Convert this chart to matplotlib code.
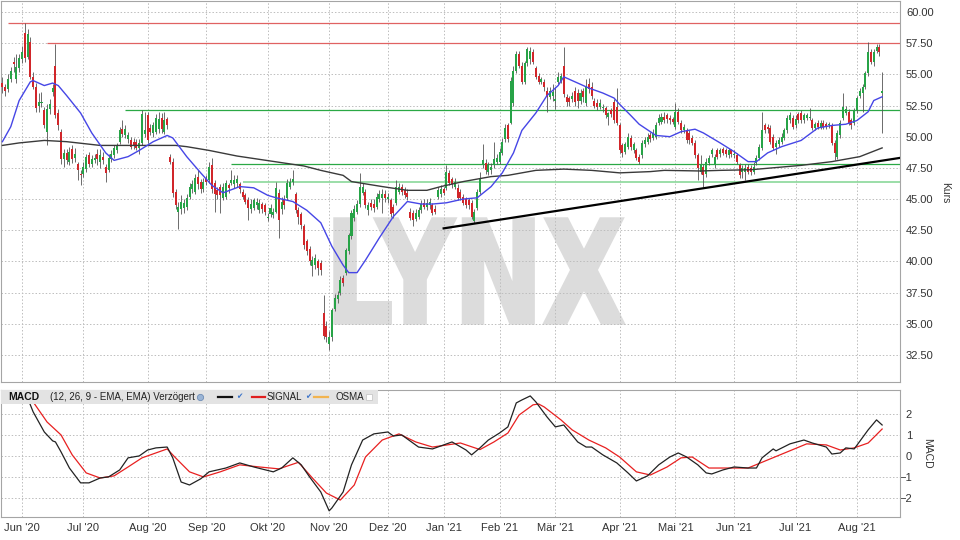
import numpy as np
import pandas as pd
import matplotlib
matplotlib.use("Agg")
import matplotlib.pyplot as plt
from matplotlib.lines import Line2D
from matplotlib.patches import Rectangle, PathPatch
from matplotlib.textpath import TextPath
from matplotlib.font_manager import FontProperties
from matplotlib.transforms import Affine2D, IdentityTransform

plt.rcParams['font.family'] = ['Liberation Sans', 'DejaVu Sans']

# trading calendar (Xetra holidays)
holidays = ['2020-12-24', '2020-12-25', '2020-12-31', '2021-01-01', '2021-04-02', '2021-04-05']
month_names = ['Jan', 'Feb', 'Mär', 'Apr', 'Mai', 'Jun', 'Jul', 'Aug', 'Sep', 'Okt', 'Nov', 'Dez']

# daily candles
opens = [
    54.3, 54.0, 53.8, 54.6, 56.0, 54.6, 55.5, 56.2, 58.3, 56.4,
    57.6, 54.8, 54.0, 52.5, 52.7, 52.1, 50.4, 52.2, 53.6, 55.7,
    51.9, 50.4, 48.2, 48.7, 48.0, 49.0, 48.3, 47.8, 47.0, 47.0,
    47.4, 48.5, 47.8, 48.1, 48.6, 48.0, 48.4, 47.6, 47.3, 48.2,
    48.5, 48.9, 49.6, 50.6, 50.1, 49.8, 49.7, 49.6, 49.6, 49.1,
    49.5, 50.2, 51.7, 50.7, 50.3, 50.4, 50.6, 51.5, 50.4, 51.4,
    48.4, 48.0, 45.6, 44.0, 44.2, 44.3, 44.4, 45.2, 45.8, 45.6,
    46.8, 46.4, 45.8, 46.6, 46.5, 47.7, 46.3, 45.7, 46.0, 45.1,
    45.2, 46.1, 46.3, 46.2, 46.3, 46.2, 45.6, 45.3, 44.9, 44.2,
    44.3, 44.5, 44.1, 44.6, 44.5, 43.5, 43.8, 43.7, 44.0, 45.5,
    44.2, 45.0, 45.1, 46.0, 46.4, 45.4, 44.1, 43.8, 42.8, 41.6,
    41.0, 39.6, 39.7, 40.0, 39.9, 35.9, 34.8, 33.4, 33.9, 36.2,
    37.0, 37.5, 38.7, 39.1, 40.8, 42.0, 43.5, 44.0, 44.6, 45.5,
    45.6, 44.1, 44.7, 44.6, 44.4, 45.0, 45.1, 45.4, 45.0, 44.9,
    44.4, 44.7, 45.6, 46.0, 45.7, 45.5, 44.0, 43.9, 43.4, 43.6,
    44.1, 44.7, 44.4, 44.5, 44.5, 44.2, 45.2, 45.4, 45.8, 45.9,
    47.1, 46.6, 46.0, 45.9, 45.6, 45.2, 45.0, 44.9, 44.7, 43.2,
    44.3, 45.6, 47.7, 47.9, 47.2, 47.3, 47.7, 48.0, 48.0, 48.7,
    49.8, 50.9, 51.1, 52.7, 55.3, 56.6, 55.7, 54.4, 55.9, 56.2,
    56.8, 55.5, 54.9, 54.4, 54.4, 53.7, 53.2, 53.3, 52.9, 54.4,
    54.5, 55.7, 53.2, 53.1, 53.0, 53.7, 53.5, 52.9, 53.7, 52.7,
    54.2, 54.0, 52.9, 52.7, 52.4, 52.3, 52.3, 51.6, 52.1, 52.8,
    52.4, 50.9, 49.3, 48.8, 49.2, 49.9, 48.9, 48.9, 48.4, 48.5,
    49.4, 49.6, 50.1, 49.9, 50.0, 51.1, 51.2, 51.6, 51.7, 51.5,
    51.4, 50.8, 52.0, 51.1, 50.5, 50.5, 50.3, 49.9, 49.5, 48.5,
    47.2, 47.6, 47.0, 47.9, 48.6, 47.7, 48.9, 48.6, 49.0, 48.9,
    48.5, 48.9, 48.5, 48.5, 47.7, 47.2, 47.2, 47.6, 47.5, 47.2,
    47.9, 48.3, 49.1, 50.9, 50.8, 50.7, 50.0, 49.2, 49.4, 49.6,
    49.9, 50.5, 51.3, 51.5, 50.9, 51.8, 51.9, 51.3, 51.5, 51.5,
    51.3, 50.7, 51.1, 50.8, 51.1, 51.0, 50.9, 50.9, 49.5, 48.4,
    50.1, 51.5, 51.9, 52.0, 51.3, 51.1, 52.1, 53.3, 53.5, 54.0,
    55.1, 56.8, 56.0, 56.9, 57.2, 53.5,
]
highs = [
    54.8, 54.2, 55.0, 55.6, 56.4, 56.6, 56.6, 57.3, 59.1, 58.6,
    58.0, 55.2, 54.3, 53.5, 53.6, 52.4, 52.6, 53.0, 54.2, 57.4,
    52.2, 50.6, 49.0, 49.0, 49.2, 49.3, 49.1, 48.0, 47.3, 48.0,
    48.6, 48.8, 48.5, 48.6, 49.0, 49.0, 48.8, 47.8, 48.6, 48.9,
    49.3, 49.5, 50.8, 51.3, 50.9, 50.4, 50.0, 49.9, 49.8, 49.8,
    52.1, 52.0, 52.0, 51.0, 51.2, 51.8, 52.0, 51.9, 52.0, 51.6,
    48.6, 48.3, 45.8, 44.8, 45.3, 45.0, 45.4, 46.3, 46.5, 47.0,
    47.3, 46.6, 46.7, 46.9, 48.0, 48.3, 46.5, 46.0, 46.2, 46.3,
    46.5, 46.3, 47.3, 46.9, 46.9, 46.4, 45.8, 45.5, 45.2, 45.0,
    45.1, 45.1, 45.0, 44.8, 44.7, 43.9, 44.6, 44.3, 46.4, 45.8,
    45.2, 45.3, 46.6, 46.7, 47.3, 45.6, 44.4, 44.0, 43.0, 41.8,
    41.2, 40.4, 40.6, 40.2, 40.1, 37.3, 35.2, 34.4, 36.3, 37.4,
    37.6, 38.8, 38.9, 41.1, 42.3, 44.1, 44.5, 44.9, 47.1, 46.3,
    45.8, 44.8, 45.0, 45.0, 45.5, 45.7, 45.8, 45.7, 45.5, 45.1,
    44.6, 46.5, 46.3, 46.2, 46.0, 45.8, 44.3, 44.1, 44.2, 44.4,
    44.9, 45.0, 45.0, 45.1, 44.7, 44.5, 46.0, 46.1, 46.0, 47.7,
    47.3, 46.8, 46.7, 46.2, 45.8, 45.4, 45.2, 45.1, 44.9, 44.2,
    45.8, 47.2, 49.4, 48.2, 48.0, 47.9, 49.6, 48.6, 49.1, 49.9,
    51.0, 51.1, 54.8, 55.7, 56.9, 56.9, 56.0, 56.1, 57.2, 57.2,
    57.0, 55.7, 55.1, 54.8, 54.6, 54.0, 54.0, 54.2, 54.0, 55.2,
    55.1, 57.2, 53.4, 53.3, 53.6, 54.0, 53.8, 53.8, 53.9, 54.6,
    54.7, 54.4, 53.1, 53.0, 53.0, 52.6, 52.5, 52.0, 52.3, 53.0,
    53.9, 51.1, 49.5, 49.6, 50.3, 50.1, 49.6, 49.1, 48.6, 49.7,
    50.0, 50.3, 50.4, 50.6, 51.2, 51.8, 51.9, 52.0, 51.9, 51.7,
    51.6, 52.7, 52.3, 51.3, 51.0, 50.7, 50.5, 50.1, 49.7, 48.7,
    48.5, 47.8, 48.3, 48.5, 49.1, 48.6, 49.1, 49.1, 49.2, 49.1,
    49.1, 49.0, 48.9, 48.7, 47.9, 47.7, 47.8, 47.8, 47.7, 48.0,
    48.5, 49.4, 52.0, 51.1, 51.0, 50.9, 50.2, 49.7, 50.0, 50.3,
    50.7, 51.7, 52.0, 51.7, 51.7, 52.0, 52.1, 51.9, 51.9, 52.3,
    51.5, 51.2, 51.3, 51.3, 51.3, 51.2, 51.2, 51.1, 49.7, 50.5,
    51.3, 53.5, 52.5, 52.2, 51.5, 52.3, 53.3, 53.9, 54.2, 55.3,
    57.6, 57.0, 57.0, 57.4, 57.4, 55.2,
]
lows = [
    53.5, 53.3, 53.6, 54.4, 55.2, 54.3, 55.2, 55.9, 56.0, 56.2,
    54.6, 53.8, 52.0, 52.0, 52.4, 50.7, 49.3, 51.8, 53.3, 51.5,
    50.5, 47.8, 47.6, 47.8, 47.7, 47.9, 48.0, 46.5, 46.1, 46.8,
    47.2, 47.6, 47.6, 47.9, 47.7, 47.5, 47.8, 46.4, 47.2, 48.0,
    48.3, 48.7, 49.4, 50.0, 49.9, 49.5, 49.0, 49.0, 48.9, 48.6,
    49.3, 50.0, 49.5, 50.1, 50.0, 50.2, 50.3, 50.3, 50.2, 50.6,
    47.8, 45.2, 44.2, 42.6, 43.8, 43.9, 44.1, 45.0, 45.5, 45.4,
    45.8, 45.5, 45.6, 46.1, 46.3, 45.5, 44.0, 45.0, 43.9, 44.9,
    45.0, 45.5, 46.1, 45.9, 46.0, 45.5, 45.0, 44.6, 43.3, 43.9,
    44.1, 44.2, 43.9, 43.9, 43.7, 43.2, 43.6, 43.5, 43.9, 41.9,
    43.8, 44.2, 44.9, 45.8, 46.1, 43.9, 43.0, 42.6, 41.0, 40.5,
    39.7, 38.8, 39.4, 38.9, 38.9, 33.8, 33.5, 32.9, 33.6, 36.0,
    36.7, 37.3, 38.0, 38.9, 40.6, 41.8, 43.2, 43.8, 44.4, 45.3,
    44.3, 43.7, 44.1, 44.0, 44.2, 44.8, 43.9, 44.8, 44.7, 43.6,
    43.5, 44.5, 45.4, 45.3, 45.1, 44.9, 43.3, 42.8, 43.2, 43.4,
    43.9, 44.2, 44.1, 44.2, 43.7, 43.8, 45.0, 45.2, 45.3, 45.7,
    46.1, 45.9, 45.8, 44.9, 44.9, 44.5, 44.3, 44.2, 43.4, 43.1,
    44.1, 45.4, 47.5, 47.0, 46.9, 47.0, 47.5, 47.8, 47.8, 48.5,
    49.6, 49.6, 51.0, 52.5, 55.1, 55.5, 54.2, 54.2, 55.7, 55.8,
    55.8, 54.6, 54.2, 54.2, 53.7, 52.0, 53.0, 52.9, 52.2, 54.2,
    54.3, 53.2, 52.5, 52.5, 52.8, 52.5, 52.3, 52.6, 52.8, 52.5,
    53.5, 53.0, 52.3, 52.1, 52.2, 52.0, 51.5, 50.9, 51.6, 51.1,
    50.9, 48.7, 48.4, 48.6, 49.0, 48.9, 48.7, 48.1, 47.8, 48.3,
    49.2, 49.4, 49.6, 49.7, 49.8, 50.9, 51.0, 51.1, 51.1, 51.0,
    51.0, 50.6, 51.0, 50.3, 50.3, 49.5, 49.4, 49.3, 48.3, 46.5,
    47.0, 46.0, 46.8, 47.7, 48.4, 47.5, 48.2, 48.4, 48.5, 48.4,
    48.3, 48.4, 48.3, 47.8, 46.7, 46.7, 46.5, 47.0, 46.9, 47.0,
    47.7, 48.1, 48.9, 50.3, 50.3, 49.4, 48.9, 48.6, 49.2, 49.4,
    49.7, 50.3, 51.1, 50.6, 50.7, 51.1, 51.1, 51.1, 51.3, 51.3,
    50.5, 50.5, 50.6, 50.6, 50.6, 50.6, 50.7, 49.3, 48.1, 48.2,
    49.9, 51.3, 51.7, 50.9, 50.6, 50.9, 51.9, 53.1, 52.0, 53.8,
    54.9, 55.8, 55.7, 56.7, 56.5, 50.3,
]
closes = [
    54.0, 53.7, 54.6, 55.3, 55.8, 55.6, 56.3, 56.8, 56.3, 58.2,
    54.8, 54.0, 52.3, 52.8, 52.8, 50.9, 52.2, 52.6, 53.9, 51.7,
    50.9, 48.2, 48.7, 48.1, 48.8, 48.2, 48.6, 47.3, 46.9, 47.6,
    48.4, 47.8, 48.2, 48.3, 48.2, 48.5, 48.1, 47.1, 48.3, 48.6,
    49.1, 49.3, 50.5, 50.2, 50.6, 50.1, 49.2, 49.3, 49.1, 49.5,
    51.8, 50.5, 49.7, 50.4, 50.9, 51.5, 51.4, 50.6, 51.3, 50.9,
    48.0, 45.5, 44.5, 44.4, 44.8, 44.7, 45.1, 46.0, 46.2, 46.7,
    46.2, 45.8, 46.4, 46.4, 47.6, 45.8, 45.4, 45.3, 45.3, 46.0,
    46.3, 45.9, 46.5, 46.5, 46.6, 45.8, 45.2, 44.8, 44.3, 44.6,
    44.9, 44.8, 44.7, 44.2, 44.0, 43.6, 44.3, 44.0, 45.9, 43.3,
    44.8, 44.5, 46.3, 46.4, 46.6, 44.1, 43.6, 42.9, 41.3, 40.8,
    40.0, 40.1, 40.3, 39.5, 39.3, 34.0, 33.9, 33.9, 36.1, 37.1,
    37.3, 38.5, 38.3, 40.9, 42.1, 43.9, 44.2, 44.6, 46.0, 46.0,
    44.5, 44.5, 44.4, 44.3, 45.2, 45.4, 45.4, 45.1, 45.2, 43.8,
    43.9, 46.0, 46.0, 45.6, 45.3, 45.2, 43.5, 43.3, 43.9, 44.1,
    44.6, 44.4, 44.7, 44.8, 43.9, 44.0, 45.7, 45.8, 45.5, 47.2,
    46.3, 46.2, 46.4, 45.1, 45.1, 44.7, 44.5, 44.5, 43.6, 44.0,
    45.6, 46.7, 48.1, 47.3, 47.7, 47.6, 48.2, 48.3, 48.8, 49.6,
    50.7, 49.8, 54.5, 55.3, 56.6, 55.7, 54.4, 55.9, 57.0, 56.9,
    56.0, 54.8, 54.4, 54.6, 54.0, 53.2, 53.7, 53.6, 53.0, 54.8,
    54.9, 53.4, 52.8, 52.8, 53.3, 52.8, 52.9, 53.5, 53.2, 54.1,
    53.8, 53.3, 52.5, 52.4, 52.7, 52.4, 51.7, 51.9, 51.8, 51.3,
    51.1, 48.9, 48.7, 49.4, 50.0, 49.2, 49.4, 48.3, 48.0, 49.5,
    49.7, 50.0, 49.8, 50.3, 50.9, 51.5, 51.6, 51.3, 51.4, 51.3,
    51.2, 52.0, 51.2, 50.5, 50.8, 49.7, 49.7, 49.5, 48.5, 47.5,
    47.8, 46.9, 48.0, 48.3, 48.9, 48.4, 48.4, 48.9, 48.7, 48.6,
    48.9, 48.6, 48.6, 48.0, 46.9, 47.5, 47.5, 47.2, 47.2, 47.6,
    48.3, 49.2, 50.5, 50.5, 50.6, 49.6, 49.1, 49.5, 49.7, 50.0,
    50.5, 51.5, 51.7, 50.8, 51.4, 51.3, 51.3, 51.7, 51.7, 51.6,
    50.7, 51.0, 50.8, 51.1, 50.8, 50.8, 51.0, 49.5, 48.7, 50.3,
    51.1, 52.4, 52.2, 51.1, 50.9, 52.1, 53.1, 53.7, 54.0, 55.1,
    56.8, 56.0, 56.8, 57.2, 56.8, 53.7,
]

# moving averages, sampled (trading-day index, value)
ma_short_days = [0, 3, 6, 10, 11, 15, 18, 20, 23, 28, 32, 37, 40, 45, 49, 54, 59, 61, 66, 71,
                 75, 79, 85, 90, 95, 98, 104, 109, 114, 118, 122, 124, 127, 130, 135, 140, 145, 150, 154, 159,
                 165, 170, 175, 179, 183, 186, 191, 195, 199, 201, 206, 210, 215, 219, 221, 225, 228, 234, 239, 243,
                 248, 251, 254, 257, 262, 267, 270, 274, 279, 286, 292, 297, 302, 306, 310, 312, 315]
ma_short_vals = [49.6, 50.8, 52.9, 54.4, 54.5, 54.1, 54.3, 54.1, 53.3, 51.9, 50.3, 48.7, 48.1, 48.4, 48.9, 49.6, 50.1, 49.9, 48.4, 47.1,
                 46.1, 45.5, 46.0, 45.9, 45.3, 45.1, 44.8, 44.1, 43.1, 41.2, 39.7, 39.1, 39.1, 40.1, 41.9, 43.6, 44.8, 44.6, 44.6, 44.7,
                 45.0, 45.1, 46.0, 47.1, 48.7, 50.5, 51.9, 53.3, 54.1, 54.8, 54.3, 53.9, 53.5, 53.1, 52.6, 51.7, 51.0, 50.1, 50.0, 50.4,
                 50.6, 50.3, 49.9, 49.5, 48.8, 48.0, 48.0, 48.7, 49.2, 49.7, 50.7, 50.9, 51.0, 51.3, 52.0, 52.9, 53.2]
ma_long_days = [0, 6, 15, 23, 35, 47, 59, 62, 66, 74, 84, 96, 108, 114, 122, 125, 136, 145, 152, 157,
                165, 175, 181, 191, 201, 211, 221, 232, 237, 250, 257, 268, 286, 297, 307, 315]
ma_long_vals = [49.3, 49.5, 49.7, 49.6, 49.3, 49.3, 49.3, 49.3, 49.2, 48.9, 48.45, 48.05, 47.65, 47.3, 46.9, 46.4, 46.0, 45.7, 45.7, 46.0,
                46.4, 46.8, 46.9, 47.3, 47.4, 47.3, 47.1, 47.2, 47.3, 47.25, 47.3, 47.35, 47.7, 48.0, 48.4, 49.1]

# horizontal levels and trend line
level_vals = [59.1, 57.5, 52.15, 47.8, 46.35]
level_start = [2, 16, 44, 82, 86]
trend_days = [158, 321.4]
trend_vals = [42.65, 48.3]

# MACD (12, 26, 9)
macd_days = [0, 9, 11, 15, 18, 19, 21, 24, 28, 31, 35, 38, 42, 45, 49, 52, 55, 59, 61, 64,
             67, 71, 74, 80, 85, 90, 97, 100, 104, 107, 110, 114, 117, 118, 122, 125, 129, 133, 138, 140,
             143, 149, 154, 161, 166, 168, 171, 174, 178, 181, 184, 186, 189, 191, 195, 198, 201, 206, 209, 211,
             215, 220, 224, 227, 231, 235, 239, 242, 245, 249, 252, 254, 258, 262, 267, 270, 272, 276, 277, 282,
             287, 290, 295, 297, 300, 302, 305, 310, 313, 315]
macd_vals = [2.78, 2.74, 2.08, 1.13, 0.71, 0.66, 0.19, -0.57, -1.27, -1.27, -1.04, -0.99, -0.66, -0.09, 0.0, 0.28, 0.38, 0.42, -0.09, -1.23,
             -1.37, -1.08, -0.75, -0.57, -0.33, -0.52, -0.75, -0.57, -0.09, -0.42, -0.99, -1.70, -2.59, -2.45, -1.70, -0.42, 0.75, 1.04, 1.13, 0.94,
             0.99, 0.42, 0.33, 0.66, 0.28, 0.05, 0.38, 0.75, 1.08, 1.37, 2.50, 2.64, 2.83, 2.55, 1.84, 1.37, 1.46, 0.66, 0.42, 0.42,
             0.05, -0.33, -0.80, -1.18, -0.94, -0.42, -0.05, 0.14, -0.05, -0.42, -0.80, -0.85, -0.66, -0.52, -0.57, -0.57, -0.09, 0.33, 0.24, 0.57,
             0.75, 0.61, 0.42, 0.09, 0.14, 0.38, 0.33, 1.23, 1.70, 1.46]
signal_days = [0, 11, 16, 21, 25, 30, 35, 40, 45, 50, 59, 62, 67, 72, 78, 85, 92, 99, 106, 111,
               116, 121, 126, 130, 136, 142, 148, 154, 164, 171, 176, 181, 185, 190, 192, 194, 200, 204, 210, 216,
               221, 227, 232, 238, 243, 247, 253, 259, 267, 274, 281, 288, 295, 300, 305, 310, 315]
signal_vals = [2.78, 2.55, 1.60, 0.99, 0.05, -0.80, -1.04, -0.94, -0.52, -0.09, 0.33, -0.09, -0.75, -0.99, -0.75, -0.42, -0.52, -0.61, -0.30, -1.04,
               -1.75, -2.08, -1.37, -0.05, 0.75, 1.04, 0.66, 0.42, 0.61, 0.30, 0.66, 1.08, 1.93, 2.41, 2.45, 2.31, 1.70, 1.23, 0.75, 0.38,
               -0.05, -0.75, -0.90, -0.52, -0.09, -0.05, -0.57, -0.57, -0.57, -0.19, 0.19, 0.57, 0.52, 0.28, 0.38, 0.61, 1.27]

dates = pd.bdate_range('2020-05-21', '2021-08-13', freq='C', holidays=holidays)
x = np.arange(len(dates))
o, h, l, c = (np.array(a) for a in (opens, highs, lows, closes))

tick_pos = [i for i in range(1, len(dates)) if dates[i].month != dates[i - 1].month]
tick_lbl = ["%s '%02d" % (month_names[dates[i].month - 1], dates[i].year % 100) for i in tick_pos]

W, H = 960, 540
fig = plt.figure(figsize=(W / 100, H / 100), dpi=100)
ax = fig.add_axes([1 / W, 1 - 382 / H, 899 / W, 381 / H])
ax2 = fig.add_axes([1 / W, 1 - 517 / H, 899 / W, 127 / H])
x_lo, x_hi = -0.5, len(dates) + 5.4

grid_kw = dict(color='#bdbdbd', linestyle=(0, (1.5, 2)), linewidth=0.7)
for a in (ax, ax2):
    a.set_facecolor('white')
    a.set_axisbelow(True)
    a.grid(True, **grid_kw)
    for s in a.spines.values():
        s.set_color('#a5a5a5')
        s.set_linewidth(0.8)
    a.set_xlim(x_lo, x_hi)
    a.set_xticks(tick_pos)

# watermark (heavy, condensed)
tp = TextPath((0, 0), 'LYNX', size=100, prop=FontProperties(family='DejaVu Sans', weight='bold'))
ext = tp.get_extents()
tr = Affine2D().translate(-ext.x0, -ext.y0).scale(288 / ext.width, 104 / ext.height).translate(335, H - 323)
ax.add_patch(PathPatch(tr.transform_path(tp), facecolor='#dcdcdc', edgecolor='#dcdcdc', linewidth=2.5,
                       joinstyle='miter', transform=IdentityTransform(), zorder=0.1))

# levels
lvl_colors = ['#e06262', '#e06262', '#2aa845', '#2aa845', '#8ad89a']
lvl_widths = [0.9, 0.9, 0.9, 0.9, 1.2]
for v, s, col, lw in zip(level_vals, level_start, lvl_colors, lvl_widths):
    ax.hlines(v, s, x_hi + 5, color=col, linewidth=lw, zorder=1.5)

# candles
up = c >= o
body_col = np.where(up, '#27a347', '#d1262a')
ax.vlines(x, l, h, color='#545454', linewidth=0.6, zorder=2)
ax.bar(x, np.maximum(np.abs(c - o), 0.08), bottom=np.minimum(o, c), width=0.72,
       color=body_col, linewidth=0, zorder=3)

ax.plot(ma_long_days, ma_long_vals, color='#3a3a3a', linewidth=1.0, zorder=4)
ax.plot(ma_short_days, ma_short_vals, color='#4646e6', linewidth=1.0, zorder=4)
ax.plot(trend_days, trend_vals, color='black', linewidth=1.6, zorder=5)

ax.set_ylim(30.33, 60.88)
ax.set_yticks(np.arange(32.5, 60.01, 2.5))
ax.set_yticklabels(['%.2f' % v for v in np.arange(32.5, 60.01, 2.5)])
ax.yaxis.tick_right()
ax.tick_params(axis='y', length=0, pad=4.3, labelsize=8, labelcolor='#333333')
ax.tick_params(axis='x', length=0, labelbottom=False)

# MACD panel
ax2.plot(signal_days, signal_vals, color='#e82020', linewidth=0.9, zorder=3)
ax2.plot(macd_days, macd_vals, color='#222222', linewidth=0.9, zorder=4)
ax2.set_ylim(-2.88, 3.11)
ax2.set_yticks([-2, -1, 0, 1, 2])
ax2.yaxis.tick_right()
ax2.tick_params(axis='y', length=0, pad=8.6, labelsize=8, labelcolor='#333333')
plt.setp(ax2.get_yticklabels(), ha='right')
ax2.set_xticklabels(tick_lbl)
ax2.tick_params(axis='x', length=0, pad=4, labelsize=8, labelcolor='#333333')

fig.text(945 / W, 1 - 193 / H, 'Kurs', rotation=270, ha='center', va='center', fontsize=7.5, color='#333333')
fig.text(927 / W, 1 - 453 / H, 'MACD', rotation=270, ha='center', va='center', fontsize=7.5, color='#333333')

# MACD legend bar
yc = 1 - 397 / H
fig.add_artist(Rectangle((1 / W, 1 - 404 / H), 377 / W, 14 / H, transform=fig.transFigure,
                         facecolor='#e3e3e3', edgecolor='none', zorder=3))
fig.text(8 / W, yc, 'MACD', fontsize=7.5, fontweight='bold', va='center', color='#111111', zorder=4)
fig.text(50 / W, yc, '(12, 26, 9 - EMA, EMA) Verzögert', fontsize=7, va='center', color='#222222', zorder=4)
fig.add_artist(Line2D([200 / W], [yc], marker='o', markersize=4.5, markerfacecolor='#9bb5d6',
                      markeredgecolor='#6f8db5', markeredgewidth=0.6, transform=fig.transFigure, zorder=4))
for x0, x1, col in [(218, 232, '#111111'), (252, 265, '#e02020'), (314, 328, '#f2b450')]:
    fig.add_artist(Line2D([x0 / W, x1 / W], [yc, yc], color=col, linewidth=1.6,
                          transform=fig.transFigure, zorder=4))
for xc in (239, 308):
    fig.text(xc / W, yc, '✔', fontsize=5.5, color='#3b73c9', ha='center', va='center', zorder=4)
fig.text(267 / W, yc, 'SIGNAL', fontsize=7, va='center', color='#222222', zorder=4)
fig.text(335 / W, yc, 'OSMA', fontsize=7, va='center', color='#222222', zorder=4)
fig.add_artist(Line2D([369 / W], [yc], marker='s', markersize=5, markerfacecolor='white',
                      markeredgecolor='#c8c8c8', markeredgewidth=0.6, transform=fig.transFigure, zorder=4))

fig.savefig('out.png', dpi=100)
